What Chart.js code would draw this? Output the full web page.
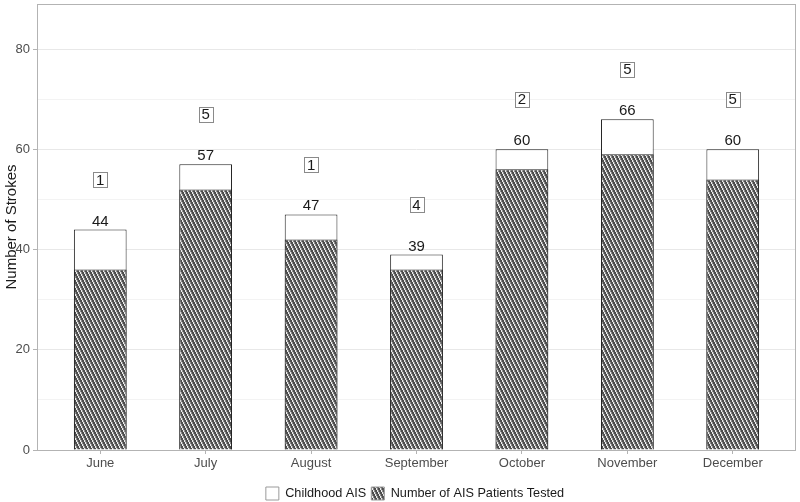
<!DOCTYPE html>
<html>
<head>
<meta charset="utf-8">
<script src="https://cdn.jsdelivr.net/npm/chart.js@4.4.1/dist/chart.umd.min.js"></script>
<style>
  html, body { margin: 0; padding: 0; background: #fff; }
  #wrap { width: 800px; height: 502px; position: relative; }
</style>
</head>
<body>
<div id="wrap"><canvas id="c" width="800" height="502"></canvas></div>
<script>
const months = ["June", "July", "August", "September", "October", "November", "December"];
const totalStrokes = [44, 57, 47, 39, 60, 66, 60];
const testedAIS = [36, 52, 42, 36, 56, 59, 54];
const boxedCounts = [1, 5, 1, 4, 2, 5, 5];
const yTickLabels = [0, 20, 40, 60, 80];

const FONT = '"Liberation Sans", Arial, sans-serif';

function makeHatch() {
  const c = document.createElement('canvas');
  c.width = 4; c.height = 8;
  const g = c.getContext('2d');
  g.fillStyle = '#4d4d4d';
  g.fillRect(0, 0, 4, 8);
  g.fillStyle = 'rgba(255,255,255,0.9)';
  for (let y = 0; y < 8; y++) {
    const x = Math.floor(y / 2);
    g.fillRect(x, y, 1, 1);
  }
  g.fillStyle = 'rgba(255,255,255,0.35)';
  for (let y = 0; y < 8; y++) {
    const x = (Math.floor(y / 2) + 1) % 4;
    g.fillRect(x, y, 1, 1);
  }
  return document.getElementById('c').getContext('2d').createPattern(c, 'repeat');
}
const hatch = makeHatch();

const panelPlugin = {
  id: 'panel',
  beforeDraw(chart) {
    if (chart.legend && !chart.legend._shifted) {
      chart.legend.top += 8;
      chart.legend.bottom += 8;
      chart.legend.left += 17;
      chart.legend.right += 17;
      chart.legend._shifted = true;
    }
  },
  afterDatasetsDraw(chart) {
    const { ctx, scales } = chart;
    const xs = scales.x, ys = scales.y;
    ctx.save();
    ctx.fillStyle = '#1a1a1a';
    ctx.font = '15px ' + FONT;
    ctx.textAlign = 'center';
    ctx.textBaseline = 'alphabetic';
    totalStrokes.forEach((v, i) => {
      const x = xs.getPixelForValue(i);
      const y = ys.getPixelForValue(v);
      ctx.fillText(String(v), x, y - 4);
    });
    boxedCounts.forEach((v, i) => {
      const x = xs.getPixelForValue(i);
      const y = ys.getPixelForValue(totalStrokes[i] + 10);
      const bx = Math.round(x - 7) + 0.5, by = Math.round(y - 7.5) + 0.5;
      ctx.fillStyle = '#fff';
      ctx.fillRect(bx, by, 14, 15);
      ctx.strokeStyle = '#8a8a8a';
      ctx.lineWidth = 1;
      ctx.strokeRect(bx, by, 14, 15);
      ctx.fillStyle = '#1a1a1a';
      ctx.textBaseline = 'middle';
      ctx.fillText(String(v), x, y + 1);
    });
    ctx.restore();
  },
  afterDraw(chart) {
    const { ctx, chartArea: a } = chart;
    ctx.save();
    ctx.strokeStyle = '#b3b3b3';
    ctx.lineWidth = 1;
    ctx.strokeRect(Math.round(a.left) + 0.5, Math.round(a.top) + 0.5,
      Math.round(a.right - a.left) - 1, Math.round(a.bottom - a.top));
    ctx.restore();
  }
};

const ctx = document.getElementById('c').getContext('2d');
new Chart(ctx, {
  type: 'bar',
  data: {
    datasets: [
      {
        label: 'Childhood AIS',
        data: totalStrokes.map((v, i) => ({ x: i, y: v })),
        backgroundColor: '#ffffff',
        borderColor: '#222222',
        borderWidth: 1,
        grouped: false,
        order: 1,
        barPercentage: 0.5,
        categoryPercentage: 1
      },
      {
        label: 'Number of AIS Patients Tested',
        data: testedAIS.map((v, i) => ({ x: i, y: v })),
        backgroundColor: hatch,
        borderColor: '#222222',
        borderWidth: 1,
        grouped: false,
        order: 0,
        barPercentage: 0.5,
        categoryPercentage: 1
      }
    ]
  },
  options: {
    responsive: false,
    animation: false,
    layout: { padding: { top: 4, right: 4, left: 0, bottom: 0 } },
    plugins: {
      tooltip: { enabled: false },
      legend: {
        position: 'bottom',
        labels: {
          boxWidth: 13,
          boxHeight: 13,
          padding: 5,
          color: '#1a1a1a',
          font: { family: FONT, size: 12.7 },
          generateLabels(chart) {
            const items = Chart.defaults.plugins.legend.labels.generateLabels(chart);
            items.forEach(it => { it.strokeStyle = '#9a9a9a'; it.lineWidth = 1; });
            items.sort((a, b) => a.datasetIndex - b.datasetIndex);
            return items;
          }
        }
      }
    },
    scales: {
      x: {
        type: 'linear',
        min: -0.6,
        max: 6.6,
        offset: false,
        grid: { offset: false, drawOnChartArea: false, drawTicks: true, tickLength: 4, tickColor: '#b3b3b3' },
        border: { display: false },
        ticks: {
          stepSize: 1,
          includeBounds: false,
          autoSkip: false,
          maxRotation: 0,
          padding: 2,
          color: '#4d4d4d',
          font: { family: FONT, size: 13 },
          callback: (v) => (Number.isInteger(v) && v >= 0 && v < months.length) ? months[v] : ''
        },
        afterFit(s) { s.height = 24; s.paddingLeft = 0; s.paddingRight = 0; }
      },
      y: {
        min: 0,
        max: 89,
        grid: {
          color: (c) => (c.tick && yTickLabels.includes(c.tick.value)) ? '#e8e8e8' : '#f3f3f3',
          tickColor: (c) => (c.tick && yTickLabels.includes(c.tick.value)) ? '#b3b3b3' : 'rgba(0,0,0,0)',
          tickLength: 4,
          lineWidth: 1
        },
        border: { display: false },
        ticks: {
          stepSize: 10,
          includeBounds: false,
          padding: 3,
          color: '#4d4d4d',
          font: { family: FONT, size: 13 },
          callback: (v) => yTickLabels.includes(v) ? String(v) : ''
        },
        title: {
          display: true,
          text: 'Number of Strokes',
          color: '#1a1a1a',
          font: { family: FONT, size: 15 },
          padding: { top: 3, bottom: 0 }
        },
        afterFit(s) { s.width = 37; s.paddingTop = 0; s.paddingBottom = 0; }
      }
    }
  },
  plugins: [panelPlugin]
});
</script>
</body>
</html>
